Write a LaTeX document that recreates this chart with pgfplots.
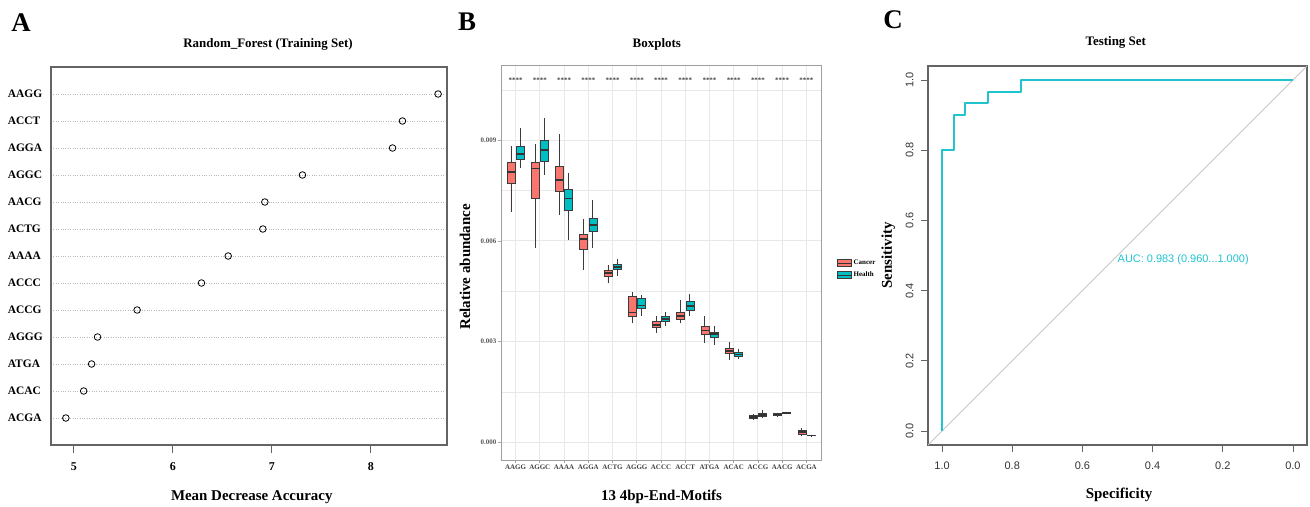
\documentclass[border=0pt]{standalone}
\usepackage{fontspec}
\setmainfont{Liberation Serif}
\newfontfamily\sans{Liberation Sans}
\usepackage{pgfplots}
\pgfplotsset{compat=1.18}
\usepgfplotslibrary{statistics}
\definecolor{cancer}{HTML}{F8766D}
\definecolor{health}{HTML}{00BFC4}
\definecolor{roc}{HTML}{1FC4CF}
\definecolor{frame}{RGB}{100,100,100}
\definecolor{boxline}{RGB}{60,60,60}
\definecolor{gridc}{RGB}{232,232,232}
\newcommand{\fs}[1]{\fontsize{#1}{#1}\selectfont}
% relative abundance values below are in units of 0.001
\newcommand{\bx}[7]{\addplot[forget plot, fill=#2, draw=boxline, line width=0.7bp,
  boxplot prepared={draw position=#1, lower whisker=#3, lower quartile=#4, median=#5,
  upper quartile=#6, upper whisker=#7, box extend=0.33, whisker extend=0}] coordinates {};}
\begin{document}
\begin{tikzpicture}
\path[use as bounding box] (0,0) rectangle (1310bp,507bp);
% panel letters
\node[font=\bfseries\fs{27}] at (21bp,484bp) {A};
\node[font=\bfseries\fs{27}] at (467bp,485bp) {B};
\node[font=\bfseries\fs{27}] at (893bp,487bp) {C};

% ---------------- Panel A ----------------
\begin{axis}[
  at={(51bp,62bp)}, anchor=south west, scale only axis,
  width=396bp, height=378bp,
  xmin=4.77, xmax=8.77, ymin=0, ymax=14,
  xtick={5,6,7,8}, xtick pos=left, tick align=outside,
  x tick style={frame, line width=0.8bp}, major tick length=8bp,
  ytick={1,...,13},
  yticklabels={ACGA,ACAC,ATGA,AGGG,ACCG,ACCC,AAAA,ACTG,AACG,AGGC,AGGA,ACCT,AAGG},
  y tick style={draw=none},
  ymajorgrids, grid style={dotted, gray!55, line width=0.6bp},
  axis line style={frame, line width=1.2bp},
  /pgf/number format/assume math mode=true,
  xticklabel style={font=\bfseries\fs{12}, yshift=-6bp},
  yticklabel style={font=\bfseries\fs{11.5}, text width=40bp, align=left, inner sep=0pt, xshift=5bp},
  title={Random\_Forest (Training Set)},
  title style={font=\bfseries\fs{13}, at={(axis description cs:0.548,1.045)}, anchor=center},
  xlabel={Mean Decrease Accuracy},
  xlabel style={font=\bfseries\fs{15}, at={(axis description cs:0.507,-0.137)}, anchor=center},
]
\addplot[only marks, mark=o, mark size=3.3bp, black, line width=0.8bp] coordinates {
(8.68,13) (8.32,12) (8.22,11) (7.31,10) (6.93,9) (6.91,8) (6.56,7)
(6.29,6) (5.64,5) (5.24,4) (5.18,3) (5.10,2) (4.92,1)};
\end{axis}

% ---------------- Panel B ----------------
\begin{axis}[
  at={(501bp,47bp)}, anchor=south west, scale only axis,
  width=320bp, height=395bp,
  xmin=0.4, xmax=13.6, ymin=-0.527, ymax=11.24,
  xtick={1,...,13},
  xticklabels={AAGG,AGGC,AAAA,AGGA,ACTG,AGGG,ACCC,ACCT,ATGA,ACAC,ACCG,AACG,ACGA},
  ytick={0,3,6,9},
  yticklabels={0.000,0.003,0.006,0.009},
  minor ytick={1.5,4.5,7.5,10.5},
  xmajorgrids, ymajorgrids, yminorgrids,
  major grid style={gridc, line width=1bp},
  minor grid style={gridc, line width=0.6bp},
  tick pos=left, tick align=outside, major tick length=3bp, minor tick length=0bp,
  tick style={gray!70, line width=0.6bp},
  axis line style={gray!75, line width=0.8bp},
  xticklabel style={font=\bfseries\fs{7}, text=black!75, inner sep=1bp, yshift=-1bp},
  yticklabel style={font=\bfseries\fs{7}, text=black!65, inner sep=1.5bp},
  title={Boxplots},
  title style={font=\bfseries\fs{13}, at={(axis description cs:0.487,1.037)}, anchor=center},
  xlabel={13 4bp-End-Motifs},
  xlabel style={font=\bfseries\fs{15}, at={(axis description cs:0.502,-0.093)}, anchor=center},
  ylabel={Relative abundance},
  ylabel style={font=\bfseries\fs{15}, at={(axis description cs:-0.1125,0.489)}, anchor=center},
  boxplot/draw direction=y,
  boxplot/every median/.style={line width=1.5bp, draw=black!80},
  boxplot/every whisker/.style={line width=0.8bp},
  legend style={at={(axis description cs:1.05,0.483)}, anchor=west, draw=none, fill=none,
    font=\bfseries\fs{7}, row sep=3bp, inner sep=0pt, nodes={inner sep=1.5bp}},
  legend cell align=left,
]
\bx{0.81}{cancer}{6.87}{7.72}{8.05}{8.33}{8.83}
\bx{1.19}{health}{8.17}{8.43}{8.59}{8.81}{9.37}
\bx{1.81}{cancer}{5.78}{7.27}{8.16}{8.33}{8.88}
\bx{2.19}{health}{7.95}{8.36}{8.71}{8.99}{9.66}
\bx{2.81}{cancer}{6.77}{7.47}{7.82}{8.22}{9.17}
\bx{3.19}{health}{6.03}{6.91}{7.27}{7.53}{8.03}
\bx{3.81}{cancer}{5.14}{5.74}{6.06}{6.20}{6.66}
\bx{4.19}{health}{5.80}{6.27}{6.47}{6.68}{7.22}
\bx{4.81}{cancer}{4.74}{4.93}{5.05}{5.12}{5.28}
\bx{5.19}{health}{4.94}{5.14}{5.22}{5.30}{5.47}
\bx{5.81}{cancer}{3.55}{3.74}{3.87}{4.35}{4.48}
\bx{6.19}{health}{3.76}{3.98}{4.07}{4.29}{4.39}
\bx{6.81}{cancer}{3.25}{3.42}{3.50}{3.60}{3.76}
\bx{7.19}{health}{3.45}{3.59}{3.67}{3.74}{3.89}
\bx{7.81}{cancer}{3.55}{3.65}{3.76}{3.88}{4.24}
\bx{8.19}{health}{3.75}{3.93}{4.06}{4.20}{4.41}
\bx{8.81}{cancer}{2.95}{3.23}{3.33}{3.45}{3.75}
\bx{9.19}{health}{2.90}{3.13}{3.23}{3.29}{3.45}
\bx{9.81}{cancer}{2.45}{2.65}{2.72}{2.80}{2.98}
\bx{10.19}{health}{2.48}{2.57}{2.62}{2.69}{2.79}
\bx{10.81}{cancer}{0.66}{0.71}{0.75}{0.79}{0.83}
\bx{11.19}{health}{0.73}{0.77}{0.82}{0.87}{0.96}
\bx{11.81}{cancer}{0.75}{0.80}{0.83}{0.85}{0.87}
\bx{12.19}{health}{0.83}{0.86}{0.88}{0.89}{0.91}
\bx{12.81}{cancer}{0.19}{0.23}{0.30}{0.35}{0.43}
\bx{13.19}{health}{0.19}{0.20}{0.21}{0.21}{0.22}
\addplot[forget plot, draw=none, mark=none, nodes near coords={****},
  every node near coord/.append style={anchor=center, font=\bfseries\fs{7}, text=black!75}]
  coordinates {(1,10.80) (2,10.80) (3,10.80) (4,10.80) (5,10.80) (6,10.80)
  (7,10.80) (8,10.80) (9,10.80) (10,10.80) (11,10.80) (12,10.80) (13,10.80)};
\addlegendimage{legend image code/.code={
  \draw[fill=cancer, draw=boxline, line width=0.6bp] (0bp,-3.5bp) rectangle (14bp,3.5bp);
  \draw[line width=1bp, black!80] (0bp,0bp) -- (14bp,0bp);}}
\addlegendentry{Cancer}
\addlegendimage{legend image code/.code={
  \draw[fill=health, draw=boxline, line width=0.6bp] (0bp,-3.5bp) rectangle (14bp,3.5bp);
  \draw[line width=1bp, black!80] (0bp,0bp) -- (14bp,0bp);}}
\addlegendentry{Health}
\end{axis}

% ---------------- Panel C ----------------
\begin{axis}[
  at={(928bp,62bp)}, anchor=south west, scale only axis,
  width=379bp, height=379bp,
  x dir=reverse,
  xmin=-0.04, xmax=1.04, ymin=-0.04, ymax=1.04,
  xtick={0,0.2,0.4,0.6,0.8,1}, ytick={0,0.2,0.4,0.6,0.8,1},
  tick pos=left, tick align=outside, major tick length=7bp,
  tick style={frame, line width=0.8bp},
  axis line style={frame, line width=1.2bp},
  xticklabel={\pgfmathprintnumber[fixed, fixed zerofill, precision=1]{\tick}},
  yticklabel={\pgfmathprintnumber[fixed, fixed zerofill, precision=1]{\tick}},
  /pgf/number format/assume math mode=true,
  xticklabel style={font=\sans\fs{11}, text=black!80, yshift=-6bp},
  yticklabel style={font=\sans\fs{11}, text=black!80, rotate=90, anchor=south, yshift=4bp},
  title={Testing Set},
  title style={font=\bfseries\fs{13}, at={(axis description cs:0.4955,1.047)}, anchor=center},
  xlabel={Specificity},
  xlabel style={font=\bfseries\fs{15}, at={(axis description cs:0.504,-0.132)}, anchor=center},
  ylabel={Sensitivity},
  ylabel style={font=\bfseries\fs{15}, at={(axis description cs:-0.105,0.5)}, anchor=center},
]
\addplot[gray!45, line width=0.8bp] coordinates {(1.04,-0.04) (-0.04,1.04)};
\addplot[draw=roc, line width=1.8bp, line join=round, sharp plot, mark=none] coordinates {
(1.000,0.000) (1.000,0.800) (0.967,0.800) (0.967,0.900) (0.934,0.900) (0.934,0.934)
(0.868,0.934) (0.868,0.967) (0.775,0.967) (0.775,1.000) (0.000,1.000)};
\node[anchor=west, text=roc, font=\sans\fs{11}, inner sep=0pt] at (axis cs:0.5,0.488) {AUC: 0.983 (0.960...1.000)};
\end{axis}
\end{tikzpicture}
\end{document}
